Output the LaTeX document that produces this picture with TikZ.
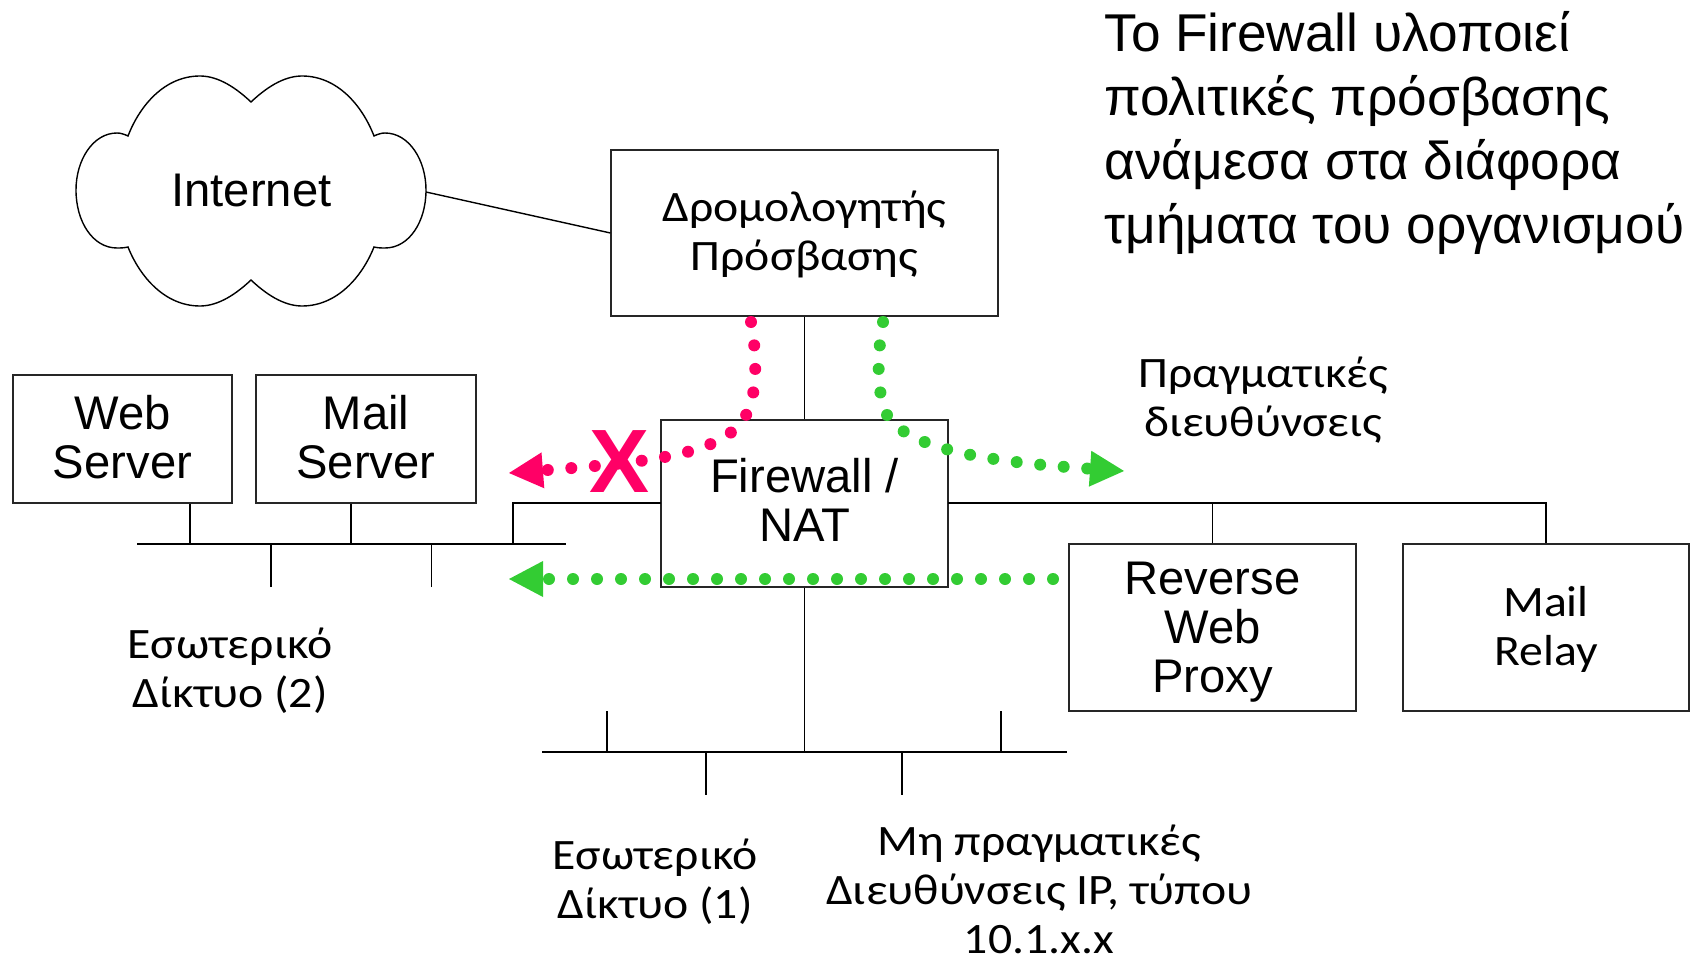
\documentclass[tikz,border=0pt]{standalone}
\usepackage{fontspec}
\setmainfont{Liberation Sans}
\newfontfamily\carl[FakeStretch=1.1]{Carlito}
\usetikzlibrary{arrows.meta}
\definecolor{xpink}{HTML}{FF0066}
\definecolor{xgreen}{HTML}{33CC33}
\tikzset{
  wire/.style={draw=black, line width=.7pt},
  box/.style={draw=black!85, line width=.6pt, align=center, inner sep=0pt, font=\fontsize{23.6}{24.5}\selectfont},
  carlbox/.style={box, font=\carl\fontsize{21.7}{24.5}\selectfont},
  lbl/.style={align=center, inner sep=0pt, font=\carl\fontsize{21.7}{24.5}\selectfont},
  dots/.style={line width=6pt, line cap=round, dash pattern=on 0pt off 12pt, -{Triangle[length=17pt,width=18pt,line width=0pt]}},
  benddots/.style={dots, dash pattern=on 0pt off 11.8pt}
}
\begin{document}
\begin{tikzpicture}[x=.5pt, y=-.5pt]
 \useasboundingbox (0,0) rectangle (1700,957);
 \draw[wire, fill=white] (251,102) .. controls (232,84) and (215,76) .. (200,76) .. controls (165,76) and (140,105) .. (128,136)
  .. controls (124,134) and (120,133) .. (117,133) .. controls (93,133) and (76,160) .. (76,190)
  .. controls (76,222) and (93,248) .. (117,248) .. controls (120,248) and (124,248) .. (128,247)
  .. controls (140,277) and (165,306) .. (200,306) .. controls (215,306) and (232,298) .. (251,280)
  .. controls (270,298) and (287,306) .. (302,306) .. controls (337,306) and (362,277) .. (374,247)
  .. controls (378,248) and (382,248) .. (385,248) .. controls (409,248) and (426,222) .. (426,190)
  .. controls (426,160) and (409,133) .. (385,133) .. controls (382,133) and (378,134) .. (374,136)
  .. controls (362,105) and (337,76) .. (302,76) .. controls (287,76) and (270,84) .. (251,102) -- cycle;
 \node (internet) at (251.5,190) [inner sep=0pt, font=\fontsize{23.6}{24.5}\selectfont] {Internet};
 \coordinate (cloudr) at (426,192);

 \node (router) at (804.5,233) [carlbox, minimum width=193.5pt, minimum height=83pt, text depth=2.2pt] {Δρομολογητής\\Πρόσβασης};
 \node (fw) at (804.5,503.5) [box, minimum width=143.5pt, minimum height=83.5pt, text depth=3.2pt] {Firewall /\\NAT};
 \node (web) at (122.5,439) [box, minimum width=109.5pt, minimum height=64pt, text depth=2.2pt] {Web\\Server};
 \node (mail) at (366,439) [box, minimum width=110pt, minimum height=64pt, text depth=2.2pt] {Mail\\Server};
 \node (proxy) at (1212.5,627.5) [box, minimum width=143.5pt, minimum height=83.5pt, text depth=.7pt] {Reverse\\Web\\Proxy};
 \node (relay) at (1546,627.5) [carlbox, minimum width=143pt, minimum height=83.5pt, text depth=2pt] {Mail\\Relay};

 \coordinate (busa1) at (137,544);
 \coordinate (busa2) at (566,544);
 \coordinate (webdrop) at (190,544);
 \coordinate (maildrop) at (351,544);
 \coordinate (fwdrop) at (513,544);
 \coordinate (stuba1) at (271,587);
 \coordinate (stuba2) at (431.5,587);
 \coordinate (busb1) at (542,752);
 \coordinate (busb2) at (1067,752);
 \coordinate (fwbus) at (804.5,752);
 \coordinate (upb1) at (607,752);
 \coordinate (upb2) at (1001,752);
 \coordinate (downb1) at (706,752);
 \coordinate (downb2) at (902,752);
 \coordinate (fwe) at (948,503);
 \coordinate (fww) at (661,503);

 \path[wire]
  (cloudr) edge (router.west)
  (router.south) edge (fw.north)
  (fw.south) edge (fwbus)
  (busa1) edge (busa2)
  (busb1) edge (busb2)
  (webdrop) edge (webdrop |- web.south)
  (maildrop) edge (maildrop |- mail.south)
  (stuba1) edge (fwdrop -| stuba1)
  (stuba2) edge (fwdrop -| stuba2)
  (upb1) edge +(0,-41)
  (upb2) edge +(0,-41)
  (downb1) edge +(0,43)
  (downb2) edge +(0,43);
 \draw[wire] (fwdrop) |- (fww);
 \draw[wire] (fwe) -| (relay.north);
 \draw[wire] (proxy.north) -- (proxy.north |- fwe);

 \node (real) at (1263,400) [lbl] {Πραγματικές\\διευθύνσεις};
 \node (lan2) at (230,671) [lbl] {Εσωτερικό\\Δίκτυο (2)};
 \node (lan1) at (655,882) [lbl] {Εσωτερικό\\Δίκτυο (1)};
 \node (fake) at (1039,889) [lbl] {Μη πραγματικές\\Διευθύνσεις IP, τύπου\\10.1.x.x};
 \node (title) at (1104,133) [anchor=west, align=left, inner sep=0pt, font=\fontsize{26.6}{32}\selectfont]
  {Το Firewall υλοποιεί\\πολιτικές πρόσβασης\\ανάμεσα στα διάφορα\\τμήματα του οργανισμού};

 \coordinate (pinkstart) at (751,322);
 \coordinate (pinkbend) at (745,417);
 \coordinate (pinktip) at (509,473);
 \coordinate (greenstart) at (883,322);
 \coordinate (greenbend) at (888,417);
 \coordinate (greentip) at (1124,471);
 \coordinate (backstart) at (1053,579);
 \coordinate (backtip) at (509,579);

 \draw[benddots, color=xpink] (pinkstart) .. controls (757,355) and (758,395) .. (pinkbend) .. controls (722,455) and (650,462) .. (pinktip);
 \draw[benddots, color=xgreen] (greenstart) .. controls (877,355) and (876,395) .. (greenbend) .. controls (912,450) and (990,462) .. (greentip);
 \draw[dots, color=xgreen] (backstart) -- (backtip);

 \node (cross) at (620,461.5) [inner sep=0pt, text=xpink, font=\bfseries\fontsize{45}{45}\selectfont] {X};
\end{tikzpicture}
\end{document}
